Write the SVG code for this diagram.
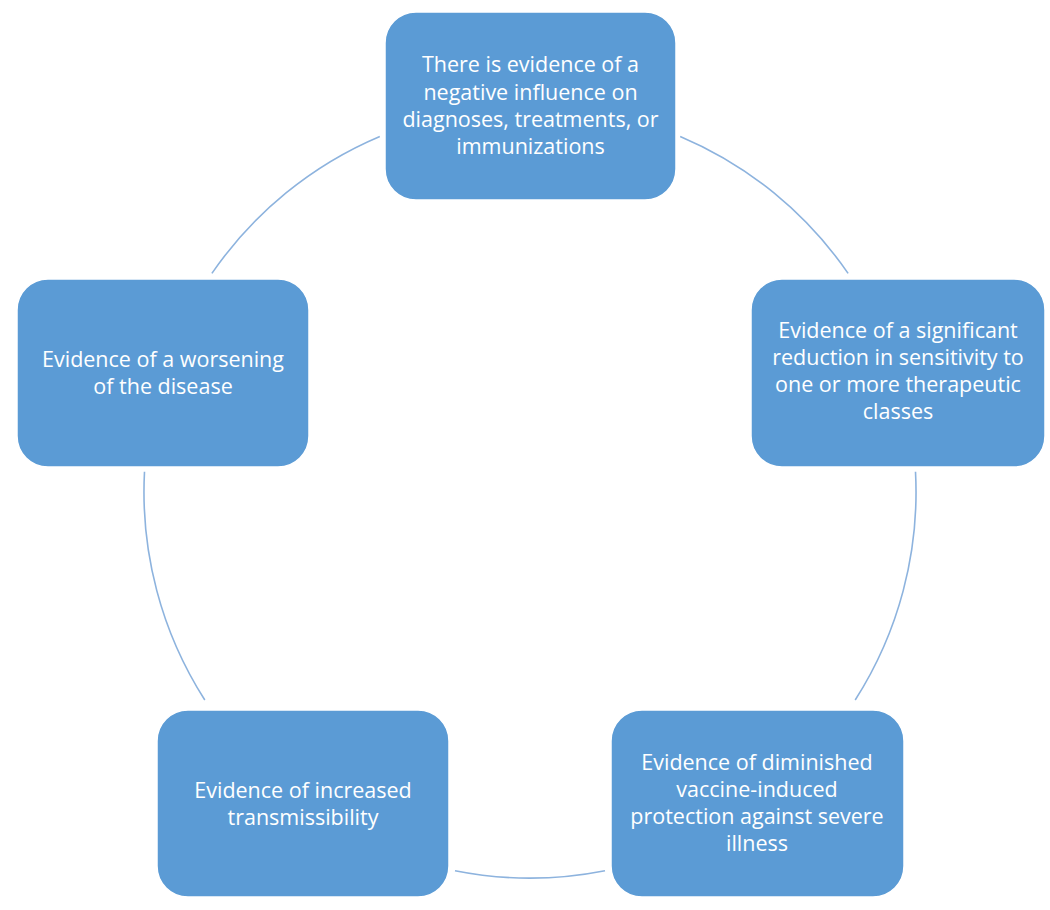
<svg xmlns="http://www.w3.org/2000/svg" width="1050" height="910" viewBox="0 0 1050 910">
<style>
.box{fill:#5B9BD5;stroke:#FFFFFF;stroke-width:1.5}
.lbl{font-family:"Open Sans","Liberation Sans",sans-serif;font-size:21.5px;fill:#FFFFFF;text-anchor:middle}
.arc{fill:none;stroke:#8DB3DE;stroke-width:1.6}
</style>
<rect width="1050" height="910" fill="#FFFFFF"/>
<g id="connectors">
<path class="arc" d="M211.9,273.4 A386,386 0 0 1 379.8,136.4"/>
<path class="arc" d="M680.2,136.4 A386,386 0 0 1 848.1,273.4"/>
<path class="arc" d="M915.5,471.8 A386,386 0 0 1 855.2,700"/>
<path class="arc" d="M605,870.7 A386,386 0 0 1 455,870.7"/>
<path class="arc" d="M204.8,700 A386,386 0 0 1 144.5,471.8"/>
</g>
<g id="node-top">
<rect class="box" x="385" y="12" width="291" height="188" rx="31"/>
<text class="lbl"><tspan x="530.5" y="72">There is evidence of a</tspan><tspan x="530.5" y="100">negative influence on</tspan><tspan x="530.5" y="127">diagnoses, treatments, or</tspan><tspan x="530.5" y="154">immunizations</tspan></text>
</g>
<g id="node-right">
<rect class="box" x="751" y="279" width="294" height="188" rx="31"/>
<text class="lbl"><tspan x="898" y="338">Evidence of a significant</tspan><tspan x="898" y="365">reduction in sensitivity to</tspan><tspan x="898" y="392">one or more therapeutic</tspan><tspan x="898" y="419">classes</tspan></text>
</g>
<g id="node-bottom-right">
<rect class="box" x="611" y="710" width="293" height="187" rx="31"/>
<text class="lbl"><tspan x="757" y="770">Evidence of diminished</tspan><tspan x="757" y="797">vaccine-induced</tspan><tspan x="757" y="824">protection against severe</tspan><tspan x="757" y="851">illness</tspan></text>
</g>
<g id="node-bottom-left">
<rect class="box" x="157" y="710" width="292" height="187" rx="31"/>
<text class="lbl"><tspan x="303" y="798">Evidence of increased</tspan><tspan x="303" y="825">transmissibility</tspan></text>
</g>
<g id="node-left">
<rect class="box" x="17" y="279" width="292" height="188" rx="31"/>
<text class="lbl"><tspan x="163" y="367">Evidence of a worsening</tspan><tspan x="163" y="394">of the disease</tspan></text>
</g>
</svg>
